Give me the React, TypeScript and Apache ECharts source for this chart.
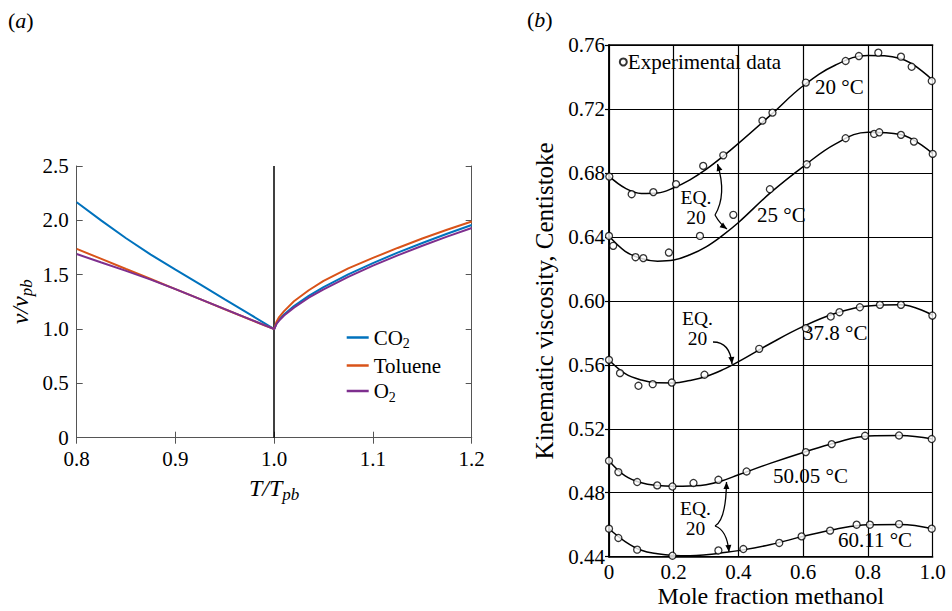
import React, { useEffect, useRef } from 'react';
import * as echarts from 'echarts';

const SERIF = "'Liberation Serif', 'Times New Roman', serif";

// ---------- Panel (a) ----------
const T_RATIO = [0.8, 0.825, 0.85, 0.875, 0.9, 0.925, 0.95, 0.975, 0.99, 1.0, 1.0025, 1.005, 1.01, 1.02, 1.035, 1.05, 1.075, 1.1, 1.125, 1.15, 1.175, 1.2];
const CO2 = [2.166, 1.997, 1.835, 1.685, 1.546, 1.41, 1.273, 1.137, 1.055, 1.0, 1.054, 1.085, 1.134, 1.211, 1.305, 1.385, 1.502, 1.607, 1.703, 1.792, 1.877, 1.957];
const TOLUENE = [1.737, 1.645, 1.552, 1.46, 1.367, 1.275, 1.182, 1.09, 1.035, 1.0, 1.07, 1.11, 1.165, 1.255, 1.357, 1.443, 1.558, 1.654, 1.746, 1.833, 1.914, 1.99];
const O2 = [1.69, 1.612, 1.535, 1.455, 1.367, 1.275, 1.183, 1.091, 1.036, 1.0, 1.049, 1.077, 1.124, 1.197, 1.288, 1.365, 1.48, 1.583, 1.678, 1.766, 1.85, 1.93];
const A_X_TICKS = [0.8, 0.9, 1.0, 1.1, 1.2];
const A_Y_TICKS = [0, 0.5, 1.0, 1.5, 2.0, 2.5];

// ---------- Panel (b) ----------
const MOLE_X = [0, 0.05, 0.1, 0.15, 0.2, 0.25, 0.3, 0.35, 0.4, 0.5, 0.6, 0.7, 0.8, 0.9, 1.0];
const FIT_20 = [0.678, 0.6705, 0.6672, 0.6675, 0.6707, 0.6757, 0.6822, 0.69, 0.6985, 0.7163, 0.7345, 0.7475, 0.7535, 0.7515, 0.738];
const FIT_25 = [0.6405, 0.631, 0.6265, 0.6248, 0.6255, 0.6288, 0.6338, 0.6408, 0.649, 0.6678, 0.684, 0.6982, 0.7055, 0.704, 0.692];
const FIT_378 = [0.563, 0.5545, 0.5505, 0.5488, 0.5487, 0.5502, 0.5527, 0.5568, 0.562, 0.5735, 0.584, 0.5922, 0.5968, 0.5975, 0.591];
const FIT_5005 = [0.5, 0.4905, 0.4862, 0.4845, 0.484, 0.4842, 0.485, 0.4875, 0.4912, 0.4985, 0.5052, 0.5113, 0.5155, 0.5158, 0.5136];
const FIT_6011 = [0.4575, 0.4495, 0.444, 0.4418, 0.4408, 0.4406, 0.4412, 0.4424, 0.4438, 0.4476, 0.4527, 0.4572, 0.46, 0.4602, 0.4575];

const EXP_20_X = [0.001, 0.07, 0.137, 0.207, 0.291, 0.353, 0.474, 0.505, 0.608, 0.731, 0.772, 0.832, 0.902, 0.935, 0.997];
const EXP_20_V = [0.6777, 0.6667, 0.668, 0.673, 0.6844, 0.691, 0.7127, 0.7177, 0.7365, 0.75, 0.7531, 0.7552, 0.7527, 0.7464, 0.7375];
const EXP_25_X = [0, 0.013, 0.082, 0.106, 0.185, 0.281, 0.384, 0.497, 0.611, 0.731, 0.819, 0.835, 0.902, 0.942, 1.0];
const EXP_25_V = [0.6406, 0.6344, 0.6273, 0.6267, 0.6302, 0.6406, 0.6538, 0.6698, 0.6854, 0.7017, 0.7044, 0.7054, 0.7038, 0.6996, 0.6919];
const EXP_378_X = [0, 0.034, 0.091, 0.135, 0.194, 0.295, 0.464, 0.608, 0.685, 0.712, 0.775, 0.837, 0.902, 0.999];
const EXP_378_V = [0.5631, 0.5548, 0.5469, 0.5479, 0.5489, 0.5538, 0.57, 0.5829, 0.5902, 0.5929, 0.596, 0.5975, 0.5975, 0.5908];
const EXP_5005_X = [0, 0.029, 0.087, 0.149, 0.196, 0.261, 0.338, 0.425, 0.608, 0.688, 0.791, 0.896, 0.997];
const EXP_5005_V = [0.5, 0.4929, 0.4867, 0.4846, 0.4839, 0.4861, 0.4881, 0.4933, 0.5054, 0.5104, 0.5156, 0.5158, 0.5136];
const EXP_6011_X = [0, 0.029, 0.087, 0.196, 0.264, 0.338, 0.415, 0.526, 0.595, 0.683, 0.765, 0.806, 0.896, 0.997];
const EXP_6011_V = [0.4575, 0.4517, 0.4444, 0.4406, 0.4398, 0.4439, 0.4448, 0.4486, 0.4527, 0.4563, 0.46, 0.46, 0.4604, 0.4575];

const zip = (xs: number[], ys: number[]) => xs.map((x, i) => [x, ys[i]]);

function arrowHead(x: number, y: number, fx: number, fy: number, len = 7, w = 3) {
  const dx = x - fx, dy = y - fy;
  const d = Math.hypot(dx, dy) || 1;
  const ux = dx / d, uy = dy / d;
  const bx = x - ux * len, by = y - uy * len;
  return {
    type: 'polygon',
    silent: true,
    shape: { points: [[x, y], [bx - uy * w, by + ux * w], [bx + uy * w, by - ux * w]] },
    style: { fill: '#000' },
  };
}

function curve(x1: number, y1: number, cx: number, cy: number, x2: number, y2: number) {
  return [
    {
      type: 'bezierCurve',
      silent: true,
      shape: { x1, y1, x2, y2, cpx1: cx, cpy1: cy },
      style: { stroke: '#000', lineWidth: 1.3, fill: null },
    },
    arrowHead(x2, y2, cx, cy),
  ];
}

const txt = (text: string, x: number, y: number, extra: any = {}) => ({
  type: 'text',
  silent: true,
  x,
  y,
  style: {
    text,
    fontFamily: SERIF,
    fontSize: 21,
    fill: '#000',
    verticalAlign: 'middle',
    align: 'left',
    ...extra,
  },
});

const eq20 = (cx: number, yTop: number, yBottom: number) => [
  txt('EQ.', cx, yTop, { align: 'center', fontSize: 19.5 }),
  txt('20', cx, yBottom, { align: 'center', fontSize: 19.5 }),
];

export default function App() {
  const ref = useRef<HTMLDivElement>(null);

  useEffect(() => {
    if (!ref.current) return;
    const chart = echarts.init(ref.current, null, { renderer: 'svg' });

    const aAxisCommon = {
      min: 0.8,
      max: 1.2,
      interval: 0.1,
      gridIndex: 0,
      axisLine: { show: true, lineStyle: { color: '#555', width: 1 } },
      axisTick: { show: true, inside: true, length: 6, lineStyle: { color: '#555' } },
      splitLine: { show: false },
    };
    const aYCommon = {
      min: 0,
      max: 2.5,
      interval: 0.5,
      gridIndex: 0,
      axisLine: { show: true, lineStyle: { color: '#555', width: 1 } },
      axisTick: { show: true, inside: true, length: 6, lineStyle: { color: '#555' } },
      splitLine: { show: false },
    };
    const nameRich = {
      i: { fontFamily: SERIF, fontStyle: 'italic', fontSize: 24, color: '#000' },
      s: { fontFamily: SERIF, fontStyle: 'italic', fontSize: 17, color: '#000', padding: [13, 0, 0, 0] },
    };
    const bGrid = { show: true, lineStyle: { color: '#000', width: 1.2, type: 'solid' } };

    const lineA = (name: string, data: number[], color: string, extra: any = {}) => ({
      name,
      type: 'line',
      xAxisIndex: 0,
      yAxisIndex: 0,
      data: zip(T_RATIO, data),
      smooth: false,
      symbol: 'none',
      showSymbol: false,
      lineStyle: { color, width: 2 },
      itemStyle: { color },
      z: 3,
      ...extra,
    });

    const fitB = (data: number[]) => ({
      type: 'line',
      xAxisIndex: 2,
      yAxisIndex: 2,
      data: zip(MOLE_X, data),
      smooth: 0.4,
      symbol: 'none',
      lineStyle: { color: '#000', width: 1.5 },
      itemStyle: { color: '#000' },
      z: 2,
    });
    const expB = (xs: number[], vs: number[]) => ({
      name: 'Experimental data',
      type: 'scatter',
      xAxisIndex: 2,
      yAxisIndex: 2,
      data: zip(xs, vs),
      symbol: 'circle',
      symbolSize: 7,
      itemStyle: { color: '#fff', borderColor: '#000', borderWidth: 1.3 },
      z: 4,
    });

    const option: any = {
      animation: false,
      backgroundColor: '#fff',
      grid: [
        { left: 76.7, top: 166, width: 395, height: 271.7, containLabel: false, outerBoundsMode: 'none' },
        { left: 609, top: 45, width: 323.7, height: 511.7, containLabel: false, outerBoundsMode: 'none' },
      ],
      xAxis: [
        {
          ...aAxisCommon,
          type: 'value',
          position: 'bottom',
          name: '{i|T/T}{s|pb}',
          nameLocation: 'middle',
          nameGap: 35,
          nameTextStyle: { rich: nameRich },
          axisLabel: {
            fontFamily: SERIF,
            fontSize: 21,
            color: '#000',
            margin: 11,
            formatter: (v: number) => {
              const t = A_X_TICKS.find((k) => Math.abs(k - v) < 1e-6);
              return t === undefined ? '' : t.toFixed(1);
            },
          },
        },
        { ...aAxisCommon, type: 'value', position: 'top', axisLabel: { show: false } },
        {
          type: 'value',
          gridIndex: 1,
          min: 0,
          max: 1,
          interval: 0.2,
          position: 'bottom',
          name: 'Mole fraction methanol',
          nameLocation: 'middle',
          nameGap: 27,
          nameMoveOverlap: false,
          nameTextStyle: { fontFamily: SERIF, fontSize: 24, color: '#000', lineHeight: 24 },
          axisLine: { show: true, lineStyle: { color: '#000', width: 1.5 } },
          axisTick: { show: false },
          splitLine: bGrid,
          axisLabel: {
            fontFamily: SERIF,
            fontSize: 21,
            color: '#000',
            margin: 5,
            formatter: (v: number) => (Math.abs(v) < 1e-9 ? '0' : v.toFixed(1)),
          },
        },
        {
          type: 'value',
          gridIndex: 1,
          min: 0,
          max: 1,
          position: 'top',
          axisLine: { show: true, lineStyle: { color: '#000', width: 1.5 } },
          axisTick: { show: false },
          axisLabel: { show: false },
          splitLine: { show: false },
        },
      ],
      yAxis: [
        {
          ...aYCommon,
          type: 'value',
          position: 'left',
          name: '{i|v/v}{s|pb}',
          nameLocation: 'middle',
          nameGap: 42,
          nameTextStyle: { rich: nameRich },
          axisLabel: {
            fontFamily: SERIF,
            fontSize: 21,
            color: '#000',
            margin: 8,
            formatter: (v: number) => {
              const t = A_Y_TICKS.find((k) => Math.abs(k - v) < 1e-6);
              return t === undefined ? '' : t === 0 ? '0' : t.toFixed(1);
            },
          },
        },
        { ...aYCommon, type: 'value', position: 'right', axisLabel: { show: false } },
        {
          type: 'value',
          gridIndex: 1,
          min: 0.44,
          max: 0.76,
          interval: 0.04,
          position: 'left',
          name: 'Kinematic viscosity, Centistoke',
          nameLocation: 'middle',
          nameGap: 52,
          nameTextStyle: { fontFamily: SERIF, fontSize: 25, color: '#000' },
          axisLine: { show: true, lineStyle: { color: '#000', width: 1.5 } },
          axisTick: { show: true, length: 4, lineStyle: { color: '#000', width: 1.2 } },
          splitLine: bGrid,
          axisLabel: {
            fontFamily: SERIF,
            fontSize: 21,
            color: '#000',
            margin: 4,
            formatter: (v: number) => v.toFixed(2),
          },
        },
        {
          type: 'value',
          gridIndex: 1,
          min: 0.44,
          max: 0.76,
          position: 'right',
          axisLine: { show: true, lineStyle: { color: '#000', width: 1.5 } },
          axisTick: { show: false },
          axisLabel: { show: false },
          splitLine: { show: false },
        },
      ],
      legend: [
        {
          data: ['CO2', 'Toluene', 'O2'],
          orient: 'vertical',
          left: 346.7,
          top: 327,
          padding: 0,
          icon: 'rect',
          itemWidth: 22,
          itemHeight: 2.5,
          itemGap: 4.5,
          selectedMode: false,
          formatter: (n: string) =>
            n === 'CO2' ? '{n|CO}{s|2}' : n === 'O2' ? '{n|O}{s|2}' : '{n|Toluene}',
          textStyle: {
            fontFamily: SERIF,
            fontSize: 21,
            color: '#000',
            rich: {
              n: { fontFamily: SERIF, fontSize: 21, color: '#000', lineHeight: 24 },
              s: { fontFamily: SERIF, fontSize: 14, color: '#000', padding: [12, 0, 0, 0] },
            },
          },
        },
        {
          data: ['Experimental data'],
          left: 618.8,
          top: 50,
          padding: 0,
          itemWidth: 7,
          itemHeight: 7,
          icon: 'circle',
          selectedMode: false,
          textStyle: { fontFamily: SERIF, fontSize: 21, color: '#000', lineHeight: 24, padding: [0, 0, 0, -4] },
        },
      ],
      series: [
        lineA('CO2', CO2, '#0072BD', {
          markLine: {
            silent: true,
            symbol: ['none', 'none'],
            label: { show: false },
            lineStyle: { color: '#000', width: 1.5, type: 'solid' },
            data: [{ xAxis: 1.0 }],
            z: 2,
          },
        }),
        lineA('Toluene', TOLUENE, '#D95319'),
        lineA('O2', O2, '#7E2F8E'),
        fitB(FIT_20),
        fitB(FIT_25),
        fitB(FIT_378),
        fitB(FIT_5005),
        fitB(FIT_6011),
        expB(EXP_20_X, EXP_20_V),
        expB(EXP_25_X, EXP_25_V),
        expB(EXP_378_X, EXP_378_V),
        expB(EXP_5005_X, EXP_5005_V),
        expB(EXP_6011_X, EXP_6011_V),
      ],
      graphic: [
        {
          type: 'text',
          silent: true,
          x: 8,
          y: 20,
          style: {
            text: '({i|a})',
            fontFamily: SERIF,
            fontSize: 22,
            fill: '#000',
            verticalAlign: 'middle',
            rich: { i: { fontFamily: SERIF, fontSize: 22, fontStyle: 'italic', fill: '#000' } },
          },
        },
        {
          type: 'text',
          silent: true,
          x: 527,
          y: 19,
          style: {
            text: '({i|b})',
            fontFamily: SERIF,
            fontSize: 22,
            fill: '#000',
            verticalAlign: 'middle',
            rich: { i: { fontFamily: SERIF, fontSize: 22, fontStyle: 'italic', fill: '#000' } },
          },
        },
        txt('20 °C', 815, 87),
        txt('25 °C', 757, 215),
        txt('37.8 °C', 803, 333),
        txt('50.05 °C', 773, 476),
        txt('60.11 °C', 838, 540),
        ...eq20(696, 197.5, 217.5),
        ...eq20(697.5, 318.5, 338.5),
        ...eq20(695.5, 508.5, 528.5),
        ...curve(715, 215, 727, 195, 717.5, 164),
        ...curve(715, 215, 720, 224, 727, 229),
        ...curve(713, 342, 730, 342, 732, 364),
        ...curve(715, 526, 726, 520, 726.5, 482),
        ...curve(715, 526, 727, 530, 729, 552),
      ],
    };

    chart.setOption(option);
    return () => chart.dispose();
  }, []);

  return (
    <div
      ref={ref}
      style={{ position: 'fixed', left: 0, top: 0, width: 952, height: 611, background: '#fff' }}
    />
  );
}
